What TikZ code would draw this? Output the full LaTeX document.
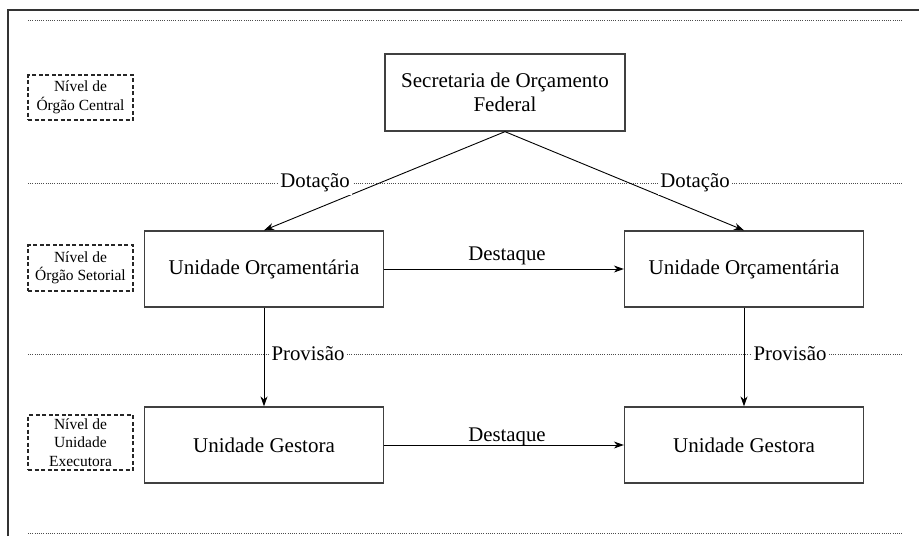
\documentclass[tikz,border=0pt]{standalone}
\usepackage{fontspec}
\setmainfont{Liberation Serif}
\usepackage{tikz}
\usetikzlibrary{arrows.meta,positioning}

\begin{document}
\begin{tikzpicture}[x=1pt,y=1pt]
\tikzstyle{every node}+=[inner sep=0pt]
\tikzstyle{unitbox}=[draw=black!75,line width=1.3pt,minimum width=239pt,minimum height=76pt,align=center,font=\fontsize{21}{24.5}\selectfont]
\tikzstyle{levelbox}=[draw=black!85,line width=1.3pt,dash pattern=on 4pt off 2.5pt,minimum width=105pt,align=center,font=\fontsize{15.5}{18.5}\selectfont]
\tikzstyle{flowlabel}=[fill=white,inner sep=2.5pt,font=\fontsize{20.8}{24}\selectfont]
\tikzstyle{flow}=[black,line width=0.9pt,-{Stealth[length=10pt,width=7pt]}]
\tikzstyle{levelline}=[black!70,line width=1pt,dash pattern=on 1pt off 1.2pt]
\useasboundingbox (0,0) rectangle (919,-536);
% frame
\draw [black!80,line width=1.5pt] (8,-536) -- (8,-10) -- (919,-10);
% level separators
\draw [levelline] (28,-20) -- (903,-20);
\draw [levelline] (28,-183) -- (903,-183);
\draw [levelline] (28,-354) -- (903,-354);
\draw [levelline] (28,-533) -- (903,-533);
% levels
\node [levelbox,minimum height=45pt] (central) at (80.5,-97.5) {Nível de\\Órgão Central};
\node [levelbox,minimum height=46pt] (setorial) at (80.5,-268) {Nível de\\Órgão Setorial};
\node [levelbox,minimum height=55pt] (executora) at (80.5,-442.5) {Nível de\\Unidade\\Executora};
% units
\node [unitbox,minimum width=240pt,minimum height=77pt] (sof) at (505,-92.5) {Secretaria de Orçamento\\Federal};
\node [unitbox] (uoa) at (264,-269) {Unidade Orçamentária};
\node [unitbox] (uob) at (744,-269) {Unidade Orçamentária};
\node [unitbox] (uga) at (264,-445) {Unidade Gestora};
\node [unitbox] (ugb) at (744,-445) {Unidade Gestora};
% flows
\draw [flow] (sof.south) -- (uoa.north);
\draw [flow] (sof.south) -- (uob.north);
\draw [flow] (uoa.east) -- (uob.west);
\draw [flow] (uga.east) -- (ugb.west);
\draw [flow] (uoa.south) -- (uga.north);
\draw [flow] (uob.south) -- (ugb.north);
\node [flowlabel] (dota) at (315,-183) {Dotação};
\node [flowlabel] (dotb) at (695,-183) {Dotação};
\node [flowlabel] (prova) at (308,-354) {Provisão};
\node [flowlabel] (provb) at (790,-354) {Provisão};
\node [flowlabel,fill=none] (desta) at (507,-256) {Destaque};
\node [flowlabel,fill=none] (destb) at (507,-437) {Destaque};
\end{tikzpicture}
\end{document}
